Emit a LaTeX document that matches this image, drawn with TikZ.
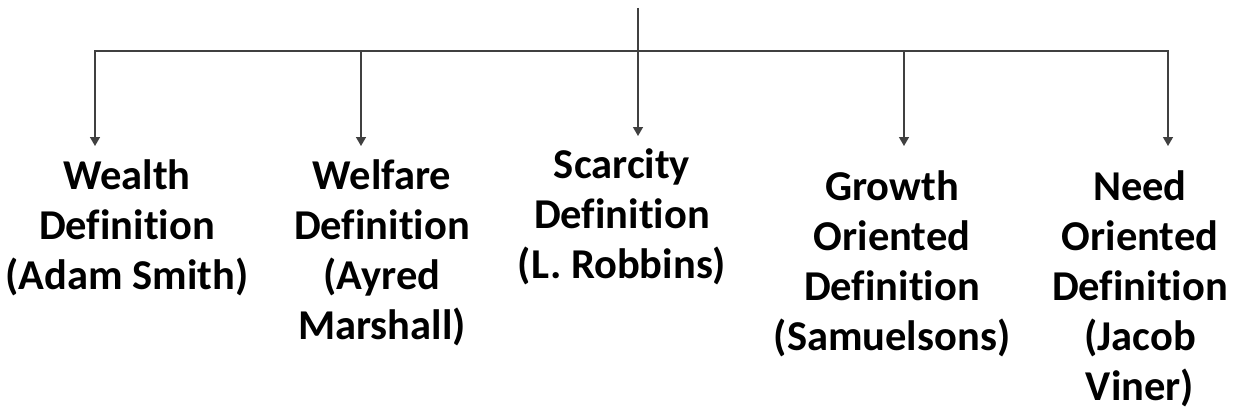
\documentclass[tikz,border=0pt]{standalone}
\usepackage{fontspec}
\setmainfont{Carlito}[Ligatures=NoCommon]
\usetikzlibrary{arrows.meta}
\begin{document}
\begin{tikzpicture}[x=1pt,y=-1pt,
  conn/.style={draw=black!75,line width=1.4pt},
  arr/.style={conn,-{Triangle[length=9pt,width=10pt]}},
  deflabel/.style={anchor=north,inner sep=0pt,align=center,
    font=\fontsize{42.5}{50}\selectfont\bfseries,text=black}]
\useasboundingbox[fill=white] (0,0) rectangle (1235,412);
% labels
\node[deflabel] (wealth)   at (127,159) {Wealth\\Definition\\(Adam Smith)};
\node[deflabel] (welfare)  at (382,159) {Welfare\\Definition\\(Ayred\\Marshall)};
\node[deflabel] (scarcity) at (622,148) {Scarcity\\Definition\\(L. Robbins)};
\node[deflabel] (growth)   at (892,170) {Growth\\Oriented\\Definition\\(Samuelsons)};
\node[deflabel] (need)     at (1140,170) {Need\\Oriented\\Definition\\(Jacob\\Viner)};
% connector points
\coordinate (root) at (638,8);
\coordinate (bus)  at (638,51);
\coordinate (j2) at (361,51);
\coordinate (j4) at (904,51);
\coordinate (t1) at (95,146);
\coordinate (t2) at (361,146);
\coordinate (t3) at (638,136);
\coordinate (t4) at (904,146);
\coordinate (t5) at (1168,146);
\draw[arr] (root) -- (t3);
\draw[arr] (bus) -| (t1);
\draw[arr] (bus) -| (t5);
\draw[arr] (j2) -- (t2);
\draw[arr] (j4) -- (t4);
\end{tikzpicture}
\end{document}
